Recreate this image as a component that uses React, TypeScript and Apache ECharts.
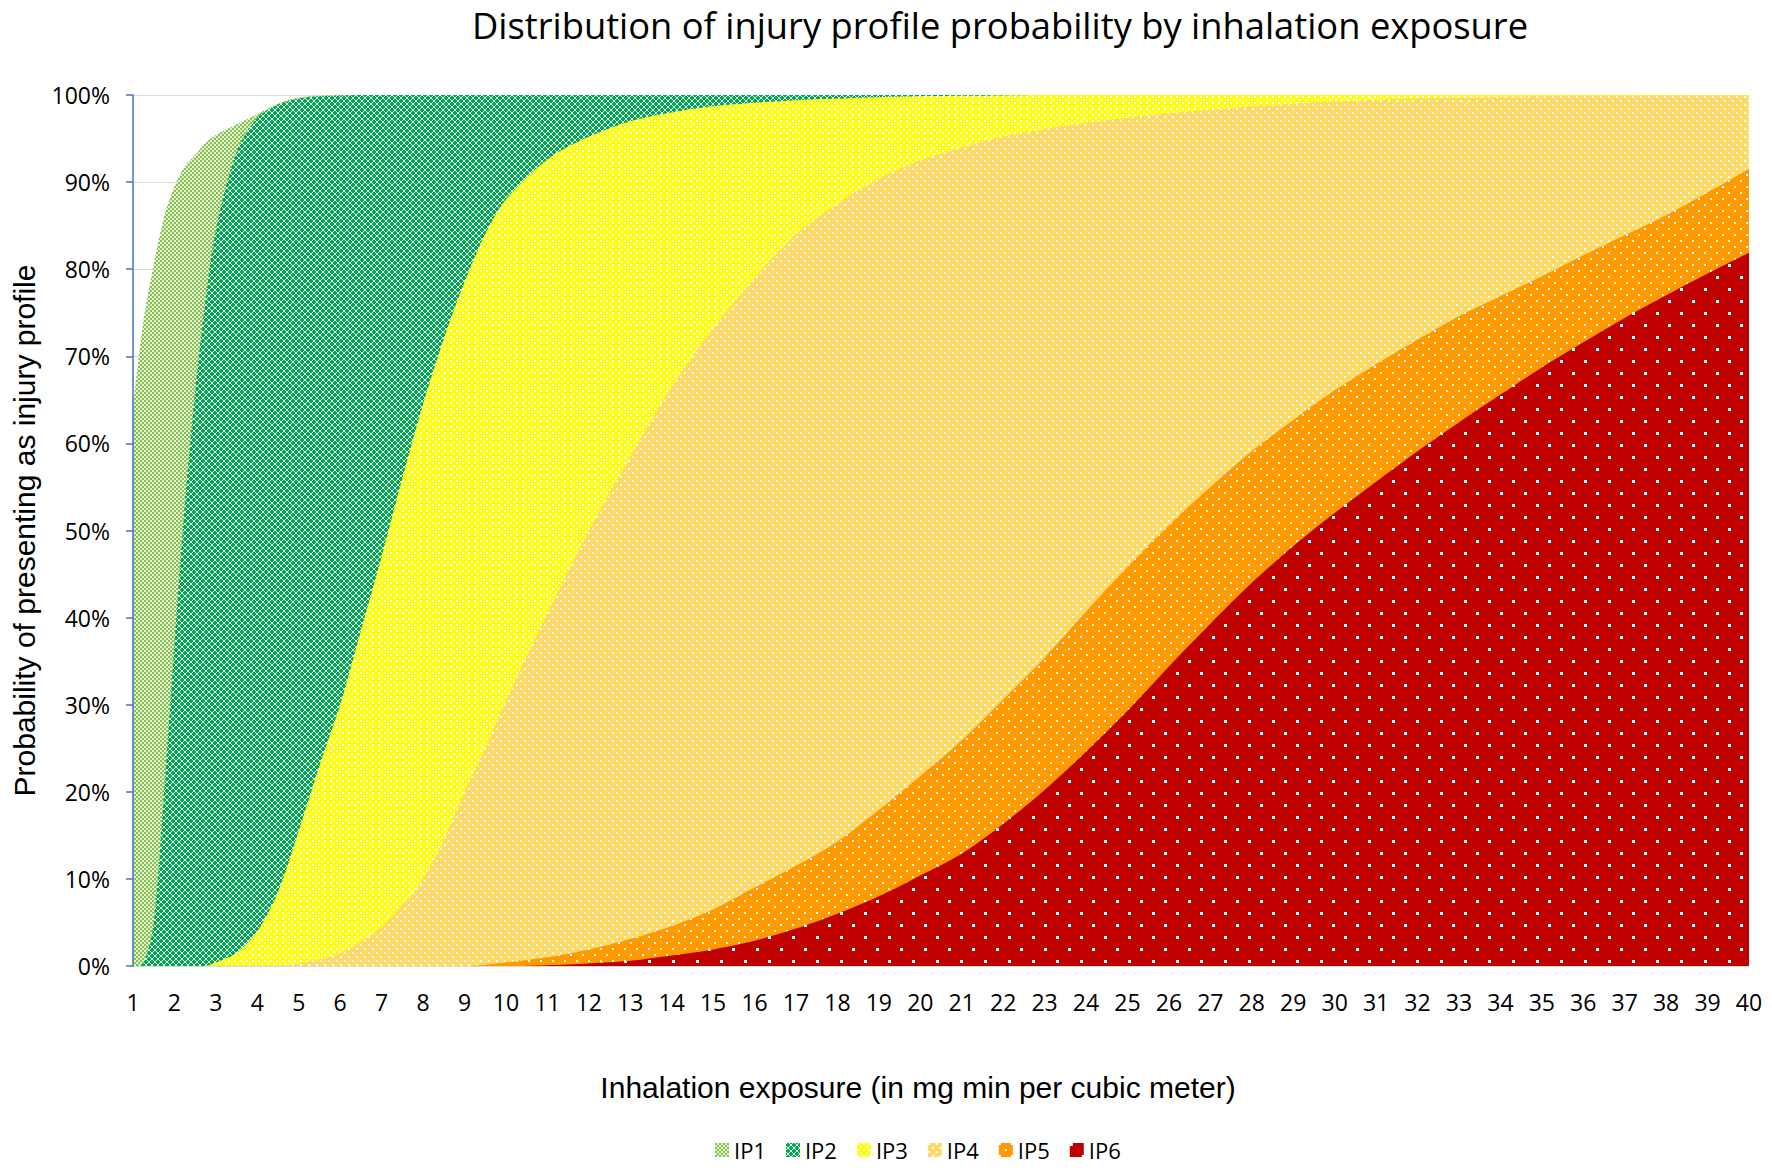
import React, { useEffect, useRef } from "react";
import * as echarts from "echarts";

// Exposure values (mg·min/m³) at which the curves were read
const xs = [
  1, 1.25, 1.5, 1.75, 2, 2.25, 2.5, 2.75, 3, 3.5, 4, 4.5, 5, 5.5, 6, 6.5, 7, 7.5, 8, 8.5, 9, 9.5, 10,
  11, 12, 13, 14, 15, 16, 17, 18, 19, 20, 21, 22, 23, 24, 25, 26, 27, 28, 29, 30,
  31, 32, 33, 34, 35, 36, 37, 38, 39, 40,
];

// Upper edge (cumulative %) of each injury-profile band
const topIP1 = [
  64, 74, 80.5, 86, 89.5, 91.8, 93.1, 94.5, 95.4, 96.6, 97.8, 99.0, 99.7, 99.9, 100, 100, 100, 100, 100, 100, 100, 100, 100,
  100, 100, 100, 100, 100, 100, 100, 100, 100, 100, 100, 100, 100, 100, 100, 100, 100, 100, 100, 100,
  100, 100, 100, 100, 100, 100, 100, 100, 100, 100,
];
const topIP2 = [
  0, 0.3, 5, 20, 37, 53, 66, 76.5, 84.5, 93.5, 97.4, 98.9, 99.6, 99.85, 99.95, 100, 100, 100, 100, 100, 100, 100, 100,
  100, 100, 100, 100, 100, 100, 100, 100, 100, 100, 100, 100, 100, 100, 100, 100, 100, 100, 100, 100,
  100, 100, 100, 100, 100, 100, 100, 100, 100, 100,
];
const topIP3 = [
  0, 0, 0, 0, 0, 0, 0, 0, 0.4, 1.5, 4, 8.5, 15.5, 23, 30, 38.5, 47, 56, 64.5, 72, 78.5, 84, 88,
  92.6, 95.2, 97, 98, 98.7, 99.1, 99.4, 99.6, 99.75, 99.85, 99.9, 99.95, 100, 100, 100, 100, 100, 100, 100, 100,
  100, 100, 100, 100, 100, 100, 100, 100, 100, 100,
];
const topIP4 = [
  0, 0, 0, 0, 0, 0, 0, 0, 0, 0, 0, 0, 0.3, 0.8, 1.5, 2.8, 4.5, 7, 10, 14.5, 20, 25, 30.5,
  40.5, 50, 58.5, 66.5, 73.2, 79, 84, 87.5, 90.4, 92.5, 94, 95.2, 96.1, 96.8, 97.4, 97.9, 98.3, 98.7, 99, 99.25,
  99.45, 99.6, 99.7, 99.8, 99.85, 99.9, 99.92, 99.94, 99.96, 99.97,
];
const topIP5 = [
  0, 0, 0, 0, 0, 0, 0, 0, 0, 0, 0, 0, 0, 0, 0, 0, 0, 0, 0, 0, 0, 0.15, 0.4,
  1.0, 1.9, 3.1, 4.6, 6.5, 9.0, 11.5, 14.3, 17.9, 21.8, 25.9, 30.6, 35.4, 40.7, 45.8, 50.6, 55, 59.1, 62.7, 66.1,
  69.1, 71.9, 74.6, 76.9, 79.2, 81.6, 83.9, 86.2, 88.8, 91.5,
];
const topIP6 = [
  0, 0, 0, 0, 0, 0, 0, 0, 0, 0, 0, 0, 0, 0, 0, 0, 0, 0, 0, 0, 0, 0, 0,
  0.1, 0.3, 0.6, 1.2, 1.9, 2.9, 4.3, 6.0, 8.0, 10.4, 12.9, 16.3, 20.2, 24.6, 29.3, 34.4, 39.3, 44.0, 48.2, 52.0,
  55.6, 59.1, 62.4, 65.6, 68.7, 71.6, 74.4, 77.0, 79.5, 81.9,
];

const seriesNames = ["IP1", "IP2", "IP3", "IP4", "IP5", "IP6"];
const seriesTops = [topIP1, topIP2, topIP3, topIP4, topIP5, topIP6];

const TITLE = "Distribution of injury profile probability by inhalation exposure";
const X_TITLE = "Inhalation exposure (in mg min per cubic meter)";
const Y_TITLE = "Probability of presenting as injury profile";

type Cell = [number, number, number, number];

function makePattern(w: number, h: number, bg: string, fg: string, rects: Cell[]) {
  const c = document.createElement("canvas");
  c.width = w;
  c.height = h;
  const ctx = c.getContext("2d")!;
  ctx.fillStyle = bg;
  ctx.fillRect(0, 0, w, h);
  ctx.fillStyle = fg;
  rects.forEach(([x, y, rw, rh]) => ctx.fillRect(x, y, rw, rh));
  return { image: c.toDataURL(), repeat: "repeat", imageWidth: w, imageHeight: h };
}

// green "plus" shapes (4x4 minus corners), staggered in a 6x6 tile
const plusCells: Cell[] = [
  [1, 0, 2, 4], [0, 1, 4, 2],
  [4, 3, 2, 3], [3, 4, 3, 2], [4, 0, 2, 1], [0, 4, 1, 2],
];

export default function App() {
  const ref = useRef<HTMLDivElement>(null);

  useEffect(() => {
    if (!ref.current) return;
    const chart = echarts.init(ref.current, undefined, { renderer: "svg" });

    const patterns = [
      makePattern(4, 4, "#E3F1D2", "#86C04F", [[0, 0, 2, 2], [2, 2, 2, 2]]),
      makePattern(6, 6, "#E8F7EE", "#00A651", plusCells),
      makePattern(6, 6, "#FFFF00", "#FFFFFF", [[0, 0, 2, 2], [3, 3, 2, 2]]),
      makePattern(8, 8, "#FFD966", "#FFFFFF", [[0, 0, 2, 2], [4, 4, 2, 2]]),
      makePattern(12, 12, "#FF9900", "#FFFFFF", [[0, 0, 2, 2], [6, 6, 2, 2]]),
      makePattern(24, 24, "#C00000", "#FFFFFF", [[0, 0, 3, 3], [12, 12, 3, 3]]),
    ];

    const uiFont = "'Open Sans', 'Noto Sans', sans-serif";
    const axisTitleFont = "'Liberation Sans', Arial, sans-serif";

    const series = seriesNames.map((name, si) => ({
      name,
      type: "line",
      data: xs.map((x, i) => [x, seriesTops[si][i]]),
      smooth: 0.3,
      symbol: "none",
      showSymbol: false,
      silent: true,
      lineStyle: { width: 0 },
      areaStyle: { color: patterns[si], opacity: 1 },
      emphasis: { disabled: true },
      z: 2,
    }));

    chart.setOption({
      animation: false,
      backgroundColor: "#FFFFFF",
      textStyle: { fontFamily: uiFont },
      graphic: [
        {
          type: "text",
          x: 1000,
          y: 25,
          style: {
            text: TITLE,
            fontSize: 36.3,
            fontFamily: uiFont,
            fill: "#000",
            align: "center",
            verticalAlign: "middle",
          },
        },
      ],
      grid: { left: 133, right: 23, top: 95, bottom: 209, containLabel: false },
      legend: {
        left: 710,
        top: 1134,
        icon: "rect",
        itemWidth: 14,
        itemHeight: 14,
        itemGap: 20,
        selectedMode: false,
        textStyle: { fontSize: 22, color: "#000", fontFamily: uiFont },
        data: seriesNames.map((name, i) => ({ name, itemStyle: { color: patterns[i] } })),
      },
      xAxis: {
        type: "value",
        min: 1,
        max: 40,
        interval: 1,
        axisLine: { show: false },
        axisTick: { show: false },
        splitLine: { show: false },
        axisLabel: { fontSize: 23, color: "#000", margin: 24, fontFamily: uiFont },
        name: X_TITLE,
        nameLocation: "middle",
        nameGap: 106,
        nameTextStyle: {
          fontSize: 30,
          color: "#000",
          fontFamily: axisTitleFont,
          padding: [0, 46, 0, 0],
        },
      },
      yAxis: [
        {
          type: "value",
          min: 0,
          max: 100,
          interval: 10,
          axisLine: { show: false },
          axisTick: { show: false },
          axisLabel: { show: false },
          splitLine: { show: true, lineStyle: { color: "#D9D9D9", width: 1 } },
        },
        {
          type: "value",
          min: 0,
          max: 100,
          interval: 10,
          position: "left",
          z: 10,
          axisLine: { show: true, onZero: false, lineStyle: { color: "#4472C4", width: 1.5 } },
          axisTick: { show: true, length: 7, lineStyle: { color: "#4472C4", width: 1.5 } },
          axisLabel: { formatter: "{value}%", fontSize: 23, color: "#000", margin: 23, fontFamily: uiFont },
          splitLine: { show: false },
          name: Y_TITLE,
          nameLocation: "middle",
          nameGap: 94,
          nameTextStyle: { fontSize: 30, color: "#000", fontFamily: axisTitleFont },
        },
      ],
      series,
    });

    return () => chart.dispose();
  }, []);

  return (
    <div
      ref={ref}
      style={{ position: "absolute", left: 0, top: 0, width: 1772, height: 1175, background: "#fff" }}
    />
  );
}
